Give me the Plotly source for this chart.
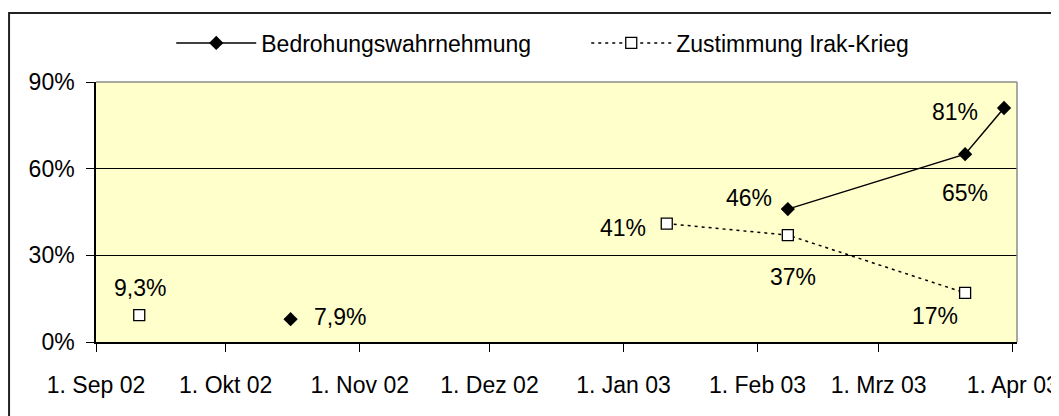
import plotly.graph_objects as go

# -----------------------------
# Data
# -----------------------------
dates = ["2002-09-11", "2002-10-16", "2003-01-11", "2003-02-08", "2003-03-21", "2003-03-30"]
bedrohung = [None, 7.9, None, 46, 65, 81]
zustimmung = [9.3, None, 41, 37, 17, None]

tick_dates = ["2002-09-01", "2002-10-01", "2002-11-01", "2002-12-01",
              "2003-01-01", "2003-02-01", "2003-03-01", "2003-04-01"]
tick_labels = ["1. Sep 02", "1. Okt 02", "1. Nov 02", "1. Dez 02",
               "1. Jan 03", "1. Feb 03", "1. Mrz 03", "1. Apr 03"]
y_ticks = [0, 30, 60, 90]
y_labels = ["0%", "30%", "60%", "90%"]

FONT = "Liberation Sans, Arial, sans-serif"
FS = 23

# label offsets (px) for each point: (xshift, yshift, xanchor)
bed_label_pos = [None, (21, 2, "left"), None, (-14, 11, "right"), (0, -39, "center"), (-24, -4, "right")]
zus_label_pos = [(1, 27, "center"), None, (-19, -4, "right"), (5, -42, "center"), (-30, -23, "center"), None]


def fmt(v):
    s = f"{v:g}".replace(".", ",")
    return s + "%"


fig = go.Figure()

fig.add_trace(
    go.Scatter(
        x=dates,
        y=bedrohung,
        name="Bedrohungswahrnehmung",
        mode="lines+markers",
        line=dict(color="black", width=1.5),
        marker=dict(symbol="diamond", size=11, color="black"),
    )
)

fig.add_trace(
    go.Scatter(
        x=dates,
        y=zustimmung,
        name="Zustimmung Irak-Krieg",
        mode="lines+markers",
        line=dict(color="black", width=1.5, dash="3px,4px"),
        marker=dict(symbol="square", size=11, color="white",
                    line=dict(color="black", width=1.3)),
    )
)

# -----------------------------
# Data labels
# -----------------------------
annotations = []
for series, pos in ((bedrohung, bed_label_pos), (zustimmung, zus_label_pos)):
    for d, v, p in zip(dates, series, pos):
        if v is None:
            continue
        dx, dy, anchor = p
        annotations.append(
            dict(
                x=d, y=v, text=fmt(v), showarrow=False,
                xshift=dx, yshift=dy, xanchor=anchor, yanchor="middle",
                font=dict(family=FONT, size=FS, color="black"),
            )
        )

# -----------------------------
# Frame lines
# -----------------------------
shapes = [
    # outer chart border
    dict(type="rect", xref="paper", yref="paper",
         x0=-0.0944, x1=1.2, y0=-0.6, y1=1.265,
         line=dict(color="#222222", width=2), layer="below"),
    # plot area top and right edges
    dict(type="line", xref="paper", yref="paper", x0=0, x1=1, y0=1, y1=1,
         line=dict(color="#8c8c8c", width=1.5), layer="above"),
    dict(type="line", xref="paper", yref="paper", x0=1, x1=1, y0=0, y1=1,
         line=dict(color="#8c8c8c", width=1.5), layer="above"),
]

# page body adds an 8px offset, so the figure is 8px smaller than the window
fig.update_layout(
    width=1051,
    height=408,
    margin=dict(l=88, r=42, t=74, b=74, autoexpand=False),
    paper_bgcolor="white",
    plot_bgcolor="#FFFFCC",
    font=dict(family=FONT, size=FS, color="black"),
    showlegend=True,
    legend=dict(
        orientation="h",
        x=0.0817, xanchor="left",
        y=1.15, yanchor="middle",
        font=dict(family=FONT, size=FS, color="black"),
        bgcolor="rgba(0,0,0,0)",
        itemwidth=80,
        entrywidth=320,
        entrywidthmode="pixels",
    ),
    annotations=annotations,
    shapes=shapes,
)

fig.update_xaxes(
    type="date",
    range=["2002-09-01", "2003-04-02"],
    tickvals=tick_dates,
    ticktext=tick_labels,
    ticks="outside",
    ticklen=8,
    tickcolor="black",
    showline=True,
    linecolor="black",
    linewidth=1.5,
    showgrid=False,
    zeroline=False,
    ticklabelstandoff=14,
)

fig.update_yaxes(
    range=[0, 90],
    tickvals=y_ticks,
    ticktext=y_labels,
    ticks="outside",
    ticklen=8,
    tickcolor="black",
    showline=True,
    linecolor="black",
    linewidth=1.5,
    showgrid=True,
    gridcolor="black",
    gridwidth=1,
    zeroline=False,
    ticklabelstandoff=7,
)

fig.write_html("out.html")
